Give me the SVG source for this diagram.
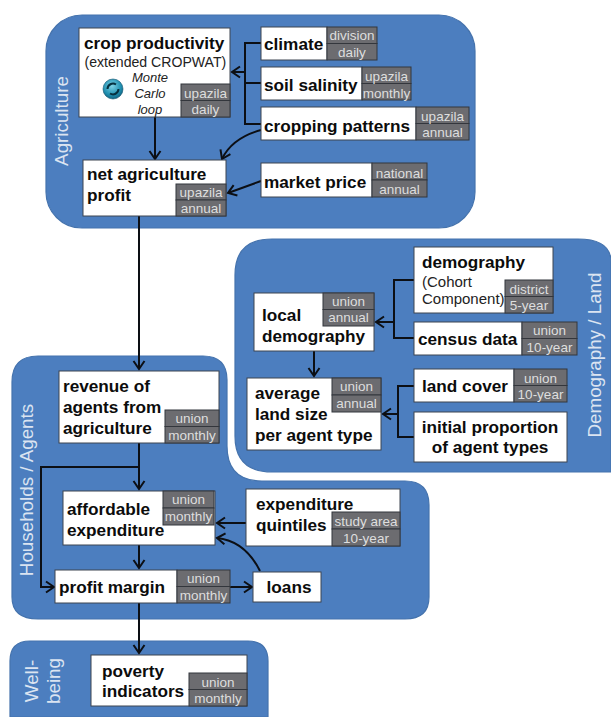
<svg xmlns="http://www.w3.org/2000/svg" width="611" height="717" viewBox="0 0 611 717">
<style>
text{font-family:"Liberation Sans",Arial,sans-serif}
.panel{fill:#4c7ebf;stroke:#4573ad;stroke-width:1.2}
.box{fill:#fff;stroke:#3c4450;stroke-width:1}
.tag{fill:#6c6c70;stroke:#33363c;stroke-width:1}
.b{font-size:17.2px;font-weight:700;fill:#0c0c0c}
.r{font-size:14.1px;fill:#222}
.r2{font-size:15px;fill:#222}
.i{font-size:13px;font-style:italic;fill:#222;text-anchor:middle}
.t{font-size:13.5px;fill:#dedede;text-anchor:middle}
.p{font-size:18.8px;fill:#dbe4f1;text-anchor:middle}
.c{fill:none;stroke:#0c0f14;stroke-width:2}
.a{marker-end:url(#arr)}
</style>
<defs>
<marker id="arr" markerUnits="userSpaceOnUse" markerWidth="14" markerHeight="14" refX="11" refY="7" orient="auto">
<path d="M3 1.5L11 7L3 12.5" fill="none" stroke="#0c0f14" stroke-width="2"/>
</marker>
<radialGradient id="ic" cx="0.45" cy="0.35" r="0.75">
<stop offset="0" stop-color="#7fd3e6"/><stop offset="0.6" stop-color="#1f8fb0"/><stop offset="1" stop-color="#0b4f6b"/>
</radialGradient>
</defs>
<g id="panels">
<rect id="panel-agriculture" class="panel" x="46" y="15" width="429" height="213" rx="36"/>
<path id="panel-demography" class="panel" d="M272 239H578Q611 239 611 262V472H272Q235 472 235 436V275Q235 239 272 239Z"/>
<path id="panel-households" class="panel" d="M38 356H203Q227 356 227 380V446Q227 481 262 481H405Q429 481 429 505V597Q429 619 405 619H38Q12 619 12 597V382Q12 356 38 356Z"/>
<path id="panel-wellbeing" class="panel" d="M30 641H248Q268 641 268 661V717H10V661Q10 641 30 641Z"/>
<text class="p" transform="translate(68 121) rotate(-90)">Agriculture</text>
<text class="p" transform="translate(601 355) rotate(-90)">Demography / Land</text>
<text class="p" transform="translate(33 490) rotate(-90)">Households / Agents</text>
<text class="p" transform="translate(38 681) rotate(-90)">Well-</text>
<text class="p" transform="translate(60 681) rotate(-90)">being</text>
</g>
<g id="connectors">
<path class="c" d="M261 43H245V124H261M261 83H245"/>
<path class="c a" d="M245 72H232"/>
<path class="c a" d="M155 117V159"/>
<path class="c a" d="M261 130Q232 138 222 159"/>
<path class="c a" d="M261 181L228 193"/>
<path class="c a" d="M139 216V369"/>
<path class="c" d="M414 280H394V338H414"/>
<path class="c a" d="M394 322H376"/>
<path class="c a" d="M314 351V376"/>
<path class="c" d="M414 386H398V437H414"/>
<path class="c a" d="M398 414H383"/>
<path class="c a" d="M139 443V489"/>
<path class="c a" d="M139 467H41V587H54"/>
<path class="c a" d="M139 545V568"/>
<path class="c a" d="M246 523H217"/>
<path class="c a" d="M260 571Q245 541 217 538"/>
<path class="c a" d="M230 587H252"/>
<path class="c a" d="M139 603V653"/>
</g>
<g id="crop-productivity">
<rect class="box" x="79" y="28" width="151" height="89"/>
<rect class="tag" x="181" y="84" width="49" height="16.500"/><rect class="tag" x="181" y="100.500" width="49" height="16.500"/>
<text class="b" x="84" y="49">crop productivity</text>
<text class="r" x="84.500" y="67">(extended CROPWAT)</text>
<circle cx="113" cy="89" r="10" fill="url(#ic)" stroke="#0b4f6b" stroke-width="0.600"/>
<path d="M107.500 89A5.500 5.500 0 0 1 116 84.500M118.500 89A5.500 5.500 0 0 1 110 93.500" fill="none" stroke="#06303f" stroke-width="2"/>
<text class="i" x="150" y="82">Monte</text><text class="i" x="150" y="98">Carlo</text><text class="i" x="150" y="114">loop</text>
<text class="t" x="205.500" y="98">upazila</text><text class="t" x="205.500" y="114">daily</text>
</g>
<g id="climate">
<rect class="box" x="261" y="27" width="66" height="33"/>
<rect class="tag" x="327" y="27" width="50" height="16.500"/><rect class="tag" x="327" y="43.500" width="50" height="16.500"/>
<text class="b" x="264" y="50">climate</text>
<text class="t" x="352" y="40">division</text><text class="t" x="352" y="57">daily</text>
</g>
<g id="soil-salinity">
<rect class="box" x="261" y="67" width="101" height="33"/>
<rect class="tag" x="362" y="67" width="49" height="16.500"/><rect class="tag" x="362" y="83.500" width="49" height="16.500"/>
<text class="b" x="264" y="91">soil salinity</text>
<text class="t" x="386.500" y="81">upazila</text><text class="t" x="386.500" y="98">monthly</text>
</g>
<g id="cropping-patterns">
<rect class="box" x="261" y="107" width="155" height="33"/>
<rect class="tag" x="416" y="107" width="53" height="16.500"/><rect class="tag" x="416" y="123.500" width="53" height="16.500"/>
<text class="b" x="264" y="132">cropping patterns</text>
<text class="t" x="442.500" y="121">upazila</text><text class="t" x="442.500" y="137">annual</text>
</g>
<g id="net-agriculture-profit">
<rect class="box" x="83" y="160" width="143" height="56"/>
<rect class="tag" x="176" y="184" width="50" height="16"/><rect class="tag" x="176" y="200" width="50" height="16"/>
<text class="b" x="87" y="180">net agriculture</text><text class="b" x="87" y="201">profit</text>
<text class="t" x="201" y="197">upazila</text><text class="t" x="201" y="213">annual</text>
</g>
<g id="market-price">
<rect class="box" x="261" y="163" width="111" height="34"/>
<rect class="tag" x="372" y="163" width="55" height="17"/><rect class="tag" x="372" y="180" width="55" height="17"/>
<text class="b" x="264" y="188">market price</text>
<text class="t" x="399.500" y="178">national</text><text class="t" x="399.500" y="194">annual</text>
</g>
<g id="demography">
<rect class="box" x="414" y="247" width="139" height="66"/>
<rect class="tag" x="505" y="280" width="48" height="16.500"/><rect class="tag" x="505" y="296.500" width="48" height="16.500"/>
<text class="b" x="422" y="268">demography</text>
<text class="r2" x="422" y="287">(Cohort</text><text class="r2" x="422" y="304">Component)</text>
<text class="t" x="529" y="294">district</text><text class="t" x="529" y="310">5-year</text>
</g>
<g id="census-data">
<rect class="box" x="414" y="322" width="108" height="33"/>
<rect class="tag" x="522" y="322" width="55" height="16.500"/><rect class="tag" x="522" y="338.500" width="55" height="16.500"/>
<text class="b" x="418" y="345">census data</text>
<text class="t" x="549.500" y="335">union</text><text class="t" x="549.500" y="352">10-year</text>
</g>
<g id="local-demography">
<rect class="box" x="254" y="293" width="120" height="58"/>
<rect class="tag" x="323" y="293" width="51" height="16.500"/><rect class="tag" x="323" y="309.500" width="51" height="16.500"/>
<text class="b" x="262" y="321">local</text><text class="b" x="262" y="342">demography</text>
<text class="t" x="348.500" y="306">union</text><text class="t" x="348.500" y="322">annual</text>
</g>
<g id="average-land-size">
<rect class="box" x="247" y="378" width="134" height="72"/>
<rect class="tag" x="332" y="378" width="49" height="17"/><rect class="tag" x="332" y="395" width="49" height="17"/>
<text class="b" x="255" y="399">average</text><text class="b" x="255" y="420">land size</text><text class="b" x="255" y="441">per agent type</text>
<text class="t" x="356.500" y="391">union</text><text class="t" x="356.500" y="408">annual</text>
</g>
<g id="land-cover">
<rect class="box" x="414" y="369" width="100" height="33"/>
<rect class="tag" x="514" y="369" width="53" height="16.500"/><rect class="tag" x="514" y="385.500" width="53" height="16.500"/>
<text class="b" x="422" y="392">land cover</text>
<text class="t" x="540.500" y="383">union</text><text class="t" x="540.500" y="399">10-year</text>
</g>
<g id="initial-proportion">
<rect class="box" x="414" y="412" width="153" height="50"/>
<text class="b" x="490" y="433" text-anchor="middle">initial proportion</text>
<text class="b" x="490" y="453" text-anchor="middle">of agent types</text>
</g>
<g id="revenue">
<rect class="box" x="59" y="371" width="160" height="72"/>
<rect class="tag" x="165" y="410" width="54" height="16.500"/><rect class="tag" x="165" y="426.500" width="54" height="16.500"/>
<text class="b" x="63" y="392">revenue of</text><text class="b" x="63" y="413">agents from</text><text class="b" x="63" y="434">agriculture</text>
<text class="t" x="192" y="423">union</text><text class="t" x="192" y="440">monthly</text>
</g>
<g id="affordable-expenditure">
<rect class="box" x="63" y="491" width="152" height="54"/>
<rect class="tag" x="163" y="491" width="51" height="17"/><rect class="tag" x="163" y="508" width="51" height="17"/>
<text class="b" x="67" y="515">affordable</text><text class="b" x="67" y="536">expenditure</text>
<text class="t" x="188.500" y="504">union</text><text class="t" x="188.500" y="521">monthly</text>
</g>
<g id="expenditure-quintiles">
<rect class="box" x="246" y="489" width="154" height="57"/>
<rect class="tag" x="332" y="512" width="68" height="17"/><rect class="tag" x="332" y="529" width="68" height="17"/>
<text class="b" x="256" y="510">expenditure</text><text class="b" x="256" y="531">quintiles</text>
<text class="t" x="366" y="526">study area</text><text class="t" x="366" y="543">10-year</text>
</g>
<g id="profit-margin">
<rect class="box" x="55" y="570" width="122" height="33"/>
<rect class="tag" x="177" y="570" width="53" height="16.500"/><rect class="tag" x="177" y="586.500" width="53" height="16.500"/>
<text class="b" x="59" y="593">profit margin</text>
<text class="t" x="203.500" y="583">union</text><text class="t" x="203.500" y="600">monthly</text>
</g>
<g id="loans">
<rect class="box" x="253" y="572" width="68" height="30"/>
<text class="b" x="289" y="593" text-anchor="middle">loans</text>
</g>
<g id="poverty-indicators">
<rect class="box" x="91" y="655" width="156" height="51"/>
<rect class="tag" x="189" y="673" width="58" height="16.500"/><rect class="tag" x="189" y="689.500" width="58" height="16.500"/>
<text class="b" x="102" y="677">poverty</text><text class="b" x="102" y="697">indicators</text>
<text class="t" x="218" y="687">union</text><text class="t" x="218" y="703">monthly</text>
</g>
</svg>
